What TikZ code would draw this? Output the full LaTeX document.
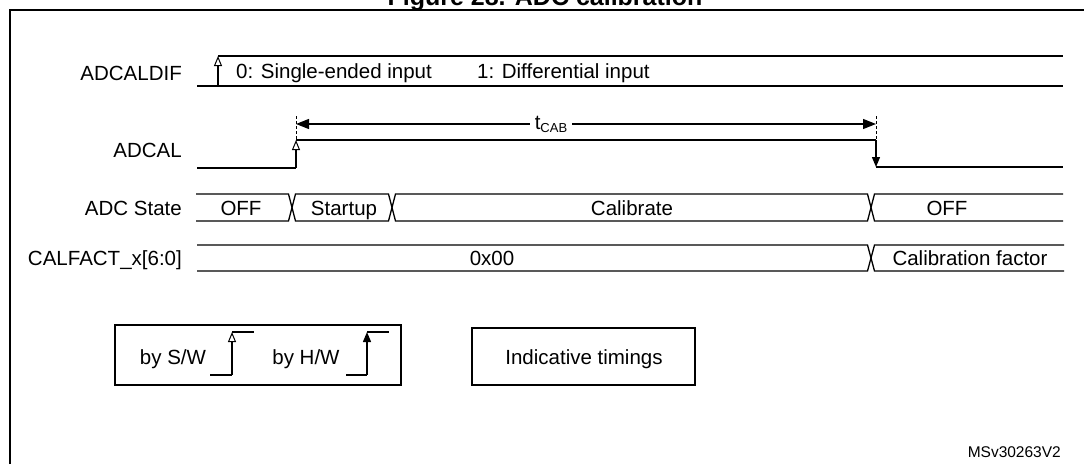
\documentclass[tikz,border=0pt]{standalone}
\usepackage{fontspec}
\setmainfont{Liberation Sans}
\usetikzlibrary{arrows.meta}
\begin{document}
\begin{tikzpicture}[x=1pt,y=-1pt,
  txt/.style={font=\fontsize{20.5}{24}\selectfont, inner sep=0pt},
  small/.style={font=\fontsize{15.5}{18}\selectfont, inner sep=0pt},
  sig/.style={line width=1.3pt},
  frame/.style={line width=2.4pt},
  boxed/.style={draw, line width=1.3pt, inner sep=0pt},
  swarrow/.style={-{Triangle[open,length=10pt,width=8pt,line width=1pt]}},
  hwarrow/.style={-{Triangle[length=10pt,width=8pt]}},
  dimarrow/.style={{Triangle[length=13pt,width=10pt]}-{Triangle[length=13pt,width=10pt]}},
  guide/.style={line width=1pt, dash pattern=on 3pt off 2pt}
]
\useasboundingbox (0,0) rectangle (1084,464);

% clipped title
\begin{scope}
\clip (0,0) rectangle (1084,9);
\node[font=\bfseries\fontsize{25}{30}\selectfont, anchor=base, inner sep=0pt] (title) at (545,5) {Figure 28. ADC calibration};
\end{scope}

% frame
\coordinate (fbl) at (10,464);
\coordinate (ftl) at (10,10);
\coordinate (ftr) at (1084,10);
\draw[frame] (fbl) -- (ftl) -- (ftr);

% signal names
\node[txt, anchor=base east] (nDIF) at (182,80) {ADCALDIF};
\node[txt, anchor=base east] (nCAL) at (182,157) {ADCAL};
\node[txt, anchor=base east] (nSTATE) at (182,215) {ADC State};
\node[txt, anchor=base east] (nFACT) at (182,265) {CALFACT\_x[6:0]};

% ADCALDIF
\coordinate (difL) at (197,86);
\coordinate (difLE) at (1063,86);
\coordinate (difR) at (218,86);
\coordinate (difRt) at (218,56);
\coordinate (difHE) at (1063,56);
\draw[sig] (difL) -- (difLE);
\draw[sig] (difRt) -- (difHE);
\draw[sig, swarrow] (difR) -- (difRt);
\node[txt, anchor=base west] (dif0) at (236,78) {0: Single-ended input};
\node[txt, anchor=base west] (dif1) at (477,78) {1: Differential input};

% ADCAL
\coordinate (calL) at (197,168);
\coordinate (calR0) at (296,168);
\coordinate (calR1) at (296,140);
\coordinate (calF0) at (876,140);
\coordinate (calF1) at (876,167);
\coordinate (calE) at (1063,167);
\draw[sig] (calL) -- (calR0);
\draw[sig, swarrow] (calR0) -- (calR1);
\draw[sig] (calR1) -- (calF0);
\draw[sig, hwarrow] (calF0) -- (calF1);
\draw[sig] (calF1) -- (calE);

% t_CAB dimension
\coordinate (dimA0) at (296,116);
\coordinate (dimB0) at (876,116);
\coordinate (dimA) at (296,124);
\coordinate (dimB) at (876,124);
\draw[guide] (dimA0) -- (calR1);
\draw[guide] (dimB0) -- (calF0);
\draw[sig, dimarrow] (dimA) -- (dimB);
\node[fill=white, inner xsep=5pt, inner ysep=1pt, font=\fontsize{20.5}{24}\selectfont] (tcab) at (551,124) {t\raisebox{-3pt}{\fontsize{13}{15}\selectfont CAB}};

% ADC State bus
\draw[sig] (196,194) -- (288.5,194) -- (295.5,221) -- (388.5,221) -- (395.5,194) -- (867.5,194) -- (874.5,221) -- (1063,221);
\draw[sig] (196,221) -- (288.5,221) -- (295.5,194) -- (388.5,194) -- (395.5,221) -- (867.5,221) -- (874.5,194) -- (1063,194);
\node[txt, anchor=base] (sOFF1) at (241,215) {OFF};
\node[txt, anchor=base] (sSTART) at (344,215) {Startup};
\node[txt, anchor=base] (sCAL) at (632,215) {Calibrate};
\node[txt, anchor=base] (sOFF2) at (947,215) {OFF};

% CALFACT bus
\draw[sig] (197,245) -- (867.5,245) -- (874.5,271) -- (1064,271);
\draw[sig] (197,271) -- (867.5,271) -- (874.5,245) -- (1064,245);
\node[txt, anchor=base] (f00) at (492,265) {0x00};
\node[txt, anchor=base] (fCF) at (970,265) {Calibration factor};

% legend
\node[boxed, minimum width=286pt, minimum height=60pt] (leg1) at (258,355) {};
\node[txt, anchor=base] (bySW) at (173,364) {by S/W};
\coordinate (sw0) at (210,375);
\coordinate (sw1) at (232,375);
\coordinate (sw2) at (232,332);
\coordinate (sw3) at (254,332);
\draw[sig] (sw0) -- (sw1);
\draw[sig, swarrow] (sw1) -- (sw2);
\draw[sig] (sw2) -- (sw3);
\node[txt, anchor=base] (byHW) at (306,364) {by H/W};
\coordinate (hw0) at (346,375);
\coordinate (hw1) at (367,375);
\coordinate (hw2) at (367,332);
\coordinate (hw3) at (389,332);
\draw[sig] (hw0) -- (hw1);
\draw[sig, hwarrow] (hw1) -- (hw2);
\draw[sig] (hw2) -- (hw3);

\node[boxed, minimum width=223pt, minimum height=57pt] (leg2) at (583.5,356.5) {};
\node[txt, anchor=base] (indic) at (584,364) {Indicative timings};

\node[small, anchor=base east] (ref) at (1061,457.5) {MSv30263V2};
\end{tikzpicture}
\end{document}
